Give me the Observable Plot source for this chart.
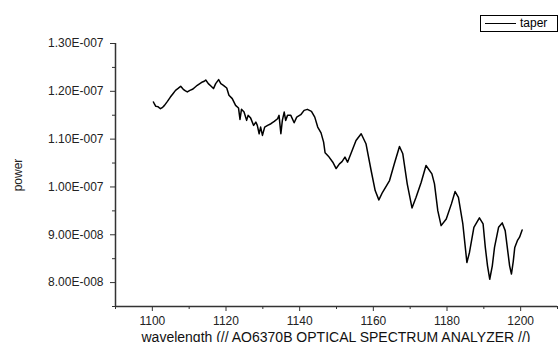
<!DOCTYPE html>
<html>
<head>
<meta charset="utf-8">
<script src="https://cdn.jsdelivr.net/npm/d3@7"></script>
<script src="https://cdn.jsdelivr.net/npm/@observablehq/plot@0.6"></script>
<style>
  html, body { margin: 0; padding: 0; background: #fff; }
  #wrap { position: relative; width: 560px; height: 342px; overflow: hidden; font-family: "Liberation Sans", Arial, sans-serif; }
  #legend { position: absolute; left: 480px; top: 15px; width: 76px; height: 15px; border: 1px solid #000; background: #fff; font-size: 12px; line-height: 15px; }
  #legend .sw { position: absolute; left: 4px; top: 7px; width: 31px; height: 0; border-top: 1px solid #000; }
  #legend .tx { position: absolute; left: 39px; top: 0; }
  #xlabel { position: absolute; left: 115px; width: 442px; top: 330px; text-align: center; font-size: 14px; line-height: 14px; color: #111; white-space: nowrap; }
</style>
</head>
<body>
<div id="wrap">
  <div id="chart"></div>
  <div id="xlabel"></div>
  <div id="legend"><span class="sw"></span><span class="tx"></span></div>
</div>
<script>
// Series: wavelength (nm) and power (W)
const wavelength = [
  1100.3,1100.6,1100.9,1101.5,1102.2,1102.8,1103.3,1104.1,1104.9,1105.6,
  1106.3,1107.0,1107.7,1108.4,1109.0,1109.5,1110.2,1110.9,1111.5,1112.2,
  1112.9,1113.6,1114.1,1114.5,1115.2,1115.9,1116.6,1117.2,1118.0,1118.6,
  1119.3,1120.2,1120.8,1121.7,1122.6,1123.4,1123.8,1124.2,1124.9,1125.6,
  1126.0,1126.7,1127.5,1128.1,1128.5,1129.0,1129.4,1129.9,1130.5,1131.3,
  1132.2,1133.1,1134.0,1134.4,1134.9,1135.3,1135.8,1136.2,1136.7,1137.6,
  1138.5,1139.2,1140.3,1141.2,1142.1,1143.2,1144.1,1144.9,1145.8,1146.5,
  1146.9,1147.8,1149.0,1149.9,1150.8,1151.5,1152.3,1153.0,1153.9,1155.3,
  1156.7,1158.0,1159.4,1160.5,1161.5,1162.5,1164.4,1165.7,1167.1,1168.0,
  1169.2,1170.5,1171.6,1173.0,1174.3,1175.9,1176.6,1177.5,1178.4,1179.8,
  1181.2,1182.2,1183.1,1184.3,1185.4,1186.1,1187.3,1188.8,1189.8,1190.4,
  1191.0,1191.6,1192.3,1192.9,1194.0,1195.0,1195.8,1196.6,1197.0,1197.5,
  1198.0,1198.4,1199.1,1199.7,1200.4
];
const power = [
  1.1776,1.1730,1.1690,1.1680,1.1636,1.1665,1.1706,1.1790,1.1880,1.1950,
  1.2020,1.2060,1.2105,1.2042,1.2010,1.1986,1.2020,1.2042,1.2080,1.2126,
  1.2160,1.2195,1.2210,1.2237,1.2161,1.2111,1.2057,1.2161,1.2245,1.2161,
  1.2126,1.2070,1.1916,1.1847,1.1706,1.1650,1.1413,1.1623,1.1566,1.1392,
  1.1497,1.1440,1.1287,1.1357,1.1287,1.1113,1.1252,1.1078,1.1252,1.1287,
  1.1322,1.1370,1.1427,1.1497,1.1113,1.1392,1.1566,1.1392,1.1497,1.1497,
  1.1343,1.1461,1.1511,1.1602,1.1623,1.1581,1.1461,1.1252,1.1130,1.0937,
  1.0715,1.0644,1.0518,1.0385,1.0484,1.0530,1.0623,1.0518,1.0694,1.0973,
  1.1113,1.0904,1.0344,0.9925,0.9730,0.9889,1.0134,1.0484,1.0847,1.0694,
  1.0065,0.9562,0.9784,1.0099,1.0449,1.0274,1.0065,0.9505,0.9191,0.9331,
  0.9646,0.9904,0.9784,0.9226,0.8421,0.8630,0.9156,0.9353,0.9226,0.8736,
  0.8350,0.8070,0.8350,0.8736,0.9156,0.9248,0.9087,0.8597,0.8350,0.8180,
  0.8450,0.8736,0.8876,0.8950,0.9101
].map(v => v * 1e-7);

// Axes
const xDomain = [1090, 1210];
const yDomain = [7.5e-8, 1.3e-7];
const xMajorTicks = [1100, 1120, 1140, 1160, 1180, 1200];
const xMinorTicks = [1090, 1110, 1130, 1150, 1170, 1190, 1210];
const yMajorTicks = [8e-8, 9e-8, 1.0e-7, 1.1e-7, 1.2e-7, 1.3e-7];
const yMinorTicks = [7.5e-8, 8.5e-8, 9.5e-8, 1.05e-7, 1.15e-7, 1.25e-7];
const xLabel = "wavelength (// AQ6370B OPTICAL SPECTRUM ANALYZER //)";
const yLabel = "power";
const seriesName = "taper";

document.getElementById("xlabel").textContent = xLabel;
document.querySelector("#legend .tx").textContent = seriesName;

const data = wavelength.map((w, i) => ({w, p: power[i]}));

function sci(d) {
  const [m, e] = d.toExponential(2).split("e");
  const n = parseInt(e, 10);
  return m + "E" + (n < 0 ? "-" : "+") + String(Math.abs(n)).padStart(3, "0");
}

const axisColor = "#333";
const chart = Plot.plot({
  width: 560,
  height: 342,
  marginTop: 43,
  marginLeft: 115,
  marginBottom: 36,
  marginRight: 3,
  style: {fontFamily: "'Liberation Sans', Arial, sans-serif", fontSize: "12px", color: "#222", background: "transparent"},
  x: {domain: xDomain},
  y: {domain: yDomain},
  marks: [
    Plot.axisX({ticks: xMinorTicks, tickSize: 3, tickFormat: () => "", label: null, stroke: axisColor}),
    Plot.axisX({ticks: xMajorTicks, tickSize: 5, tickPadding: 5, tickFormat: d => String(d), stroke: axisColor, label: null}),
    Plot.axisY({ticks: yMinorTicks, tickSize: 3, tickFormat: () => "", label: null, stroke: axisColor}),
    Plot.axisY({ticks: yMajorTicks, tickSize: 5, tickPadding: 7, tickFormat: sci, stroke: axisColor,
      label: yLabel, labelAnchor: "center", labelOffset: 102, labelArrow: "none"}),
    Plot.ruleY([yDomain[0]], {stroke: axisColor, strokeWidth: 1.5}),
    Plot.ruleX([xDomain[0]], {stroke: axisColor, strokeWidth: 1.5}),
    Plot.line(data, {x: "w", y: "p", stroke: "#000", strokeWidth: 1.5})
  ]
});
document.getElementById("chart").appendChild(chart);
</script>
</body>
</html>
